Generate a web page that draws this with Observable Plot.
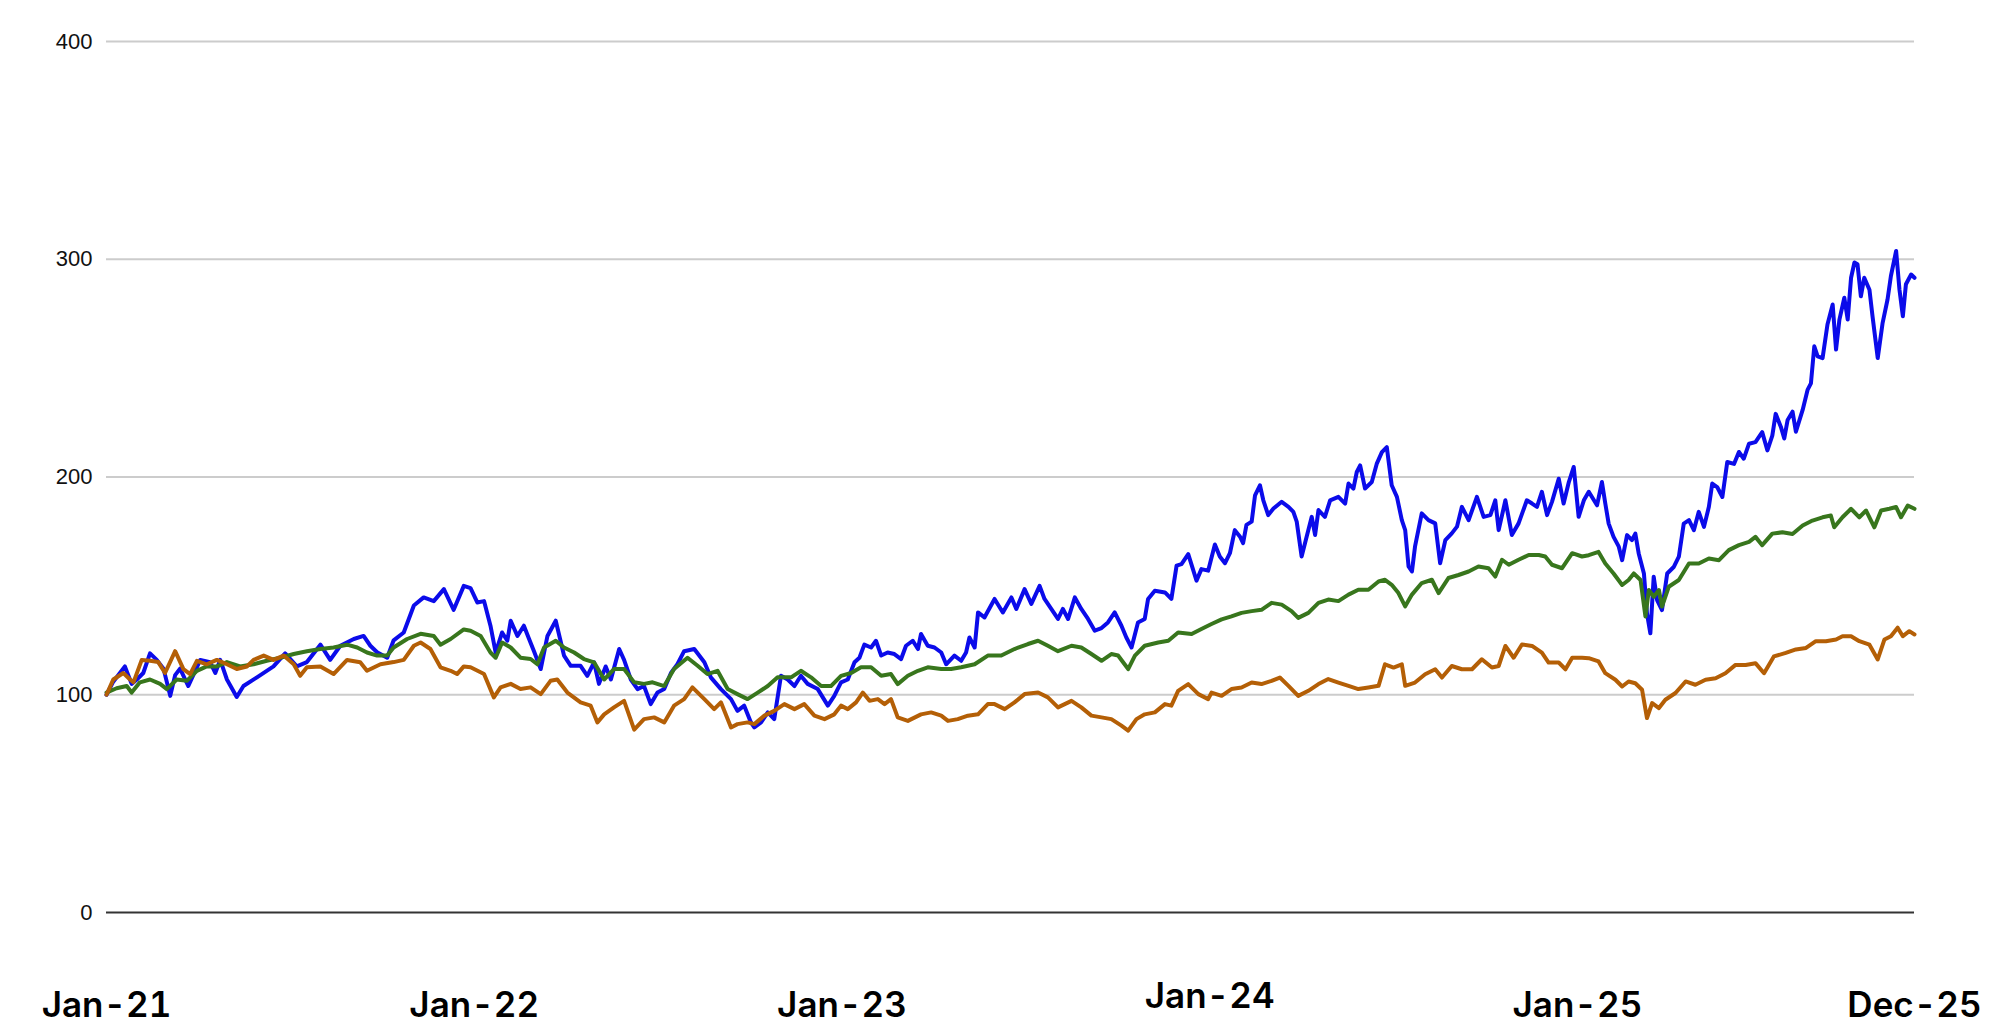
<!DOCTYPE html>
<html>
<head>
<meta charset="utf-8">
<script src="https://cdn.jsdelivr.net/npm/d3@7"></script>
<script src="https://cdn.jsdelivr.net/npm/@observablehq/plot@0.6"></script>
<style>
  html, body { margin: 0; padding: 0; background: #fff; }
  #chart { width: 2012px; height: 1024px; }
</style>
</head>
<body>
<div id="chart"></div>
<script>
// Values indexed by months elapsed since Jan 2021 (t), value rebased to 100.
const blue = [
[0,100],[0.22,106],[0.60,113],[0.82,105],[0.99,107],[1.20,110],[1.42,119],[1.64,116],[1.86,112],[2.08,99.5],
[2.24,109],[2.40,112],[2.67,104],[3.06,116],[3.38,115],[3.55,110],[3.71,116],[3.93,107],[4.25,99],[4.47,104],
[4.91,108],[5.45,113],[5.83,119],[6.21,113],[6.54,115],[6.98,123],[7.30,116],[7.63,122.5],[8.07,125.6],[8.39,127],
[8.61,122.5],[8.83,119.5],[9.16,117],[9.37,125],[9.70,128.6],[10.03,141],[10.35,144.7],[10.68,143],[11.01,148.5],[11.33,139],
[11.66,150],[11.88,149],
[12.10,142.4],[12.32,143],[12.53,131.7],[12.70,119.4],[12.91,128.6],[13.08,124.8],[13.19,134],[13.41,127],[13.62,131.7],[13.79,125.6],
[13.95,120],[14.17,111.8],[14.39,127],[14.66,134],[14.93,118],[15.15,113.3],[15.47,113.3],[15.69,108.7],[15.91,114.9],[16.07,105],
[16.29,113],[16.46,107],[16.73,121],[16.89,116],[17.11,107],[17.33,102.6],[17.54,104],[17.76,95.7],[17.98,101],[18.20,102.6],
[18.42,110],[18.63,114],[18.85,120],[19.18,121],[19.51,114.9],[19.72,108],[20.05,102.6],[20.38,98],[20.59,92.6],[20.81,95],
[21.03,87.3],[21.14,85],[21.36,87.3],[21.58,91.9],[21.79,88.8],[22.01,108.7],[22.23,107],[22.45,104],[22.66,108.7],[22.88,105],
[23.21,102.6],[23.54,95],[23.75,99.5],
[23.97,105.7],[24.19,107],[24.41,114.9],[24.57,117],[24.73,123],[24.95,121.7],[25.11,124.8],[25.28,118],[25.49,119.4],[25.71,118.7],
[25.93,116.4],[26.09,122.5],[26.31,124.8],[26.48,121],[26.58,127.9],[26.80,122.5],[27.02,121.7],[27.24,119.4],[27.40,114],[27.67,118],
[27.89,115.6],[28.05,119.4],[28.16,126.3],[28.33,121.7],[28.44,137.8],[28.65,135.5],[28.98,144],[29.25,137.8],[29.53,144.7],[29.69,139.4],
[29.96,148.5],[30.18,141.7],[30.45,150],[30.61,144],[30.83,139.4],[31.05,134.8],[31.21,139.4],[31.38,134.8],[31.60,144.7],[31.81,139.4],
[32.03,134.8],[32.25,129.4],[32.47,130.6],[32.68,133.2],[32.90,137.8],[33.12,131.7],[33.28,126.3],[33.45,121.7],[33.66,133.2],[33.88,134.8],
[33.99,144],[34.21,147.8],[34.54,147],[34.75,144],[34.92,159.3],[35.08,160],[35.30,164.6],[35.57,152.4],[35.73,157.7],[35.95,157],
[36.17,169],
[36.33,163.5],[36.50,160.4],[36.66,165],[36.82,175.6],[36.99,172.6],[37.09,169.6],[37.20,178],[37.37,179.5],[37.48,191.6],[37.64,196.2],
[37.75,189.3],[37.91,182.5],[38.08,185.5],[38.35,188.6],[38.57,186.3],[38.73,184],[38.84,179.5],[39.00,163.5],[39.11,169.6],[39.33,181.7],
[39.44,173.4],[39.55,184.8],[39.76,181.7],[39.93,189.3],[40.20,190.9],[40.42,187.8],[40.53,197],[40.69,194.7],[40.80,202.3],[40.91,205.3],
[41.07,194.7],[41.29,197.7],[41.45,206],[41.62,211.4],[41.78,213.7],[41.94,196.2],[42.11,190.9],[42.27,180.2],[42.38,175.6],[42.49,158.9],
[42.60,156.6],[42.70,168],[42.92,183.3],[43.14,180.2],[43.36,178.7],[43.52,160.4],[43.69,171],[43.90,174.1],[44.07,177.2],[44.23,186.3],
[44.45,180.2],[44.72,190.9],[44.94,181.7],[45.16,182.5],[45.32,189.3],[45.43,175.6],[45.65,189.3],[45.86,173.4],[46.08,178.7],[46.35,189.3],
[46.52,187.8],[46.68,186.3],[46.84,193.2],[47.01,182.5],[47.17,188.6],[47.39,199.2],[47.55,187.8],[47.72,197.7],[47.88,204.6],[48.04,181.7],
[48.21,189.3],[48.37,193.2],
[48.64,187],[48.80,197.7],[48.91,187.8],[49.02,178.6],[49.18,172.5],[49.35,168],[49.46,161.8],[49.62,173.3],[49.78,171],[49.89,174],
[50.00,164.9],[50.17,155.7],[50.27,137.4],[50.38,128.2],[50.49,154.2],[50.60,143.5],[50.76,138.9],[50.93,155.7],[51.15,158.8],[51.31,163.4],
[51.47,178.6],[51.64,180.2],[51.80,175.6],[51.96,184],[52.13,177.1],[52.29,186.3],[52.40,197],[52.56,195.4],[52.73,190.8],[52.89,206.9],
[53.11,206],[53.27,211.5],[53.43,208.4],[53.60,215.3],[53.81,216],[54.03,220.6],[54.20,212.2],[54.36,219],[54.47,229],
[54.64,223],[54.75,217.7],[54.86,226.2],[55.02,230],[55.13,220.8],[55.35,230.8],[55.51,240],[55.62,243],[55.73,260],[55.84,255.4],
[56.00,254.6],[56.16,270],[56.33,279.2],[56.44,258.5],[56.55,272.3],[56.71,282.3],[56.82,272.3],[56.93,291.5],[57.04,298.5],[57.14,297.7],
[57.25,283],[57.36,291.5],[57.53,286],[57.63,273.8],[57.80,254.6],[57.96,270.8],[58.12,281.5],[58.23,292.3],[58.40,303.8],[58.51,286],
[58.62,273.8],[58.72,288.5],[58.89,293],[59.00,291.5]
];

const green = [
[0,101],[0.33,103],[0.66,104],[0.82,101],[1.09,105.7],[1.42,107],[1.75,105],[1.97,102.6],[2.29,107],[2.62,106.4],
[2.95,111],[3.27,113],[3.60,113],[3.93,115],[4.36,113],[4.80,114],[5.23,115.6],[5.67,117],[6.11,118.7],[6.54,120],
[6.98,121],[7.41,121.7],[7.85,123],[8.18,121.7],[8.50,119.4],[8.83,118],[9.16,118],[9.37,121.7],[9.81,125.6],[10.25,128],
[10.68,127],[10.90,123],[11.23,125.6],[11.66,130],[11.88,129.4],
[12.21,127],[12.53,119.4],[12.70,117],[12.91,124],[13.19,121.7],[13.51,117],[13.84,116.4],[14.06,114],[14.28,121.7],[14.66,124.8],
[14.93,121.7],[15.26,119.4],[15.58,116.4],[15.91,114.9],[16.24,107],[16.56,111.8],[16.89,111.8],[17.22,105.7],[17.54,105],[17.82,105.7],
[18.20,104],[18.52,111.8],[18.96,117],[19.29,113.3],[19.61,109.5],[19.94,111],[20.27,102.6],[20.59,100.3],[20.92,98],[21.25,101],
[21.58,104],[21.90,108],[22.34,108],[22.66,111],[22.99,108],[23.32,104],[23.64,104],
[23.97,108.7],[24.30,110],[24.62,112.6],[24.95,112.6],[25.28,108.7],[25.60,109.5],[25.82,104.9],[26.15,108.7],[26.48,111],[26.80,112.6],
[27.24,111.8],[27.56,111.8],[27.89,112.6],[28.33,114],[28.76,118],[29.20,118],[29.63,121],[30.07,123.3],[30.40,124.8],[30.72,122.5],
[31.05,120],[31.49,122.5],[31.81,121.7],[32.14,118.7],[32.47,115.6],[32.79,118.7],[33.01,118],[33.34,111.8],[33.56,118],[33.88,122.5],
[34.32,124],[34.65,124.8],[34.97,128.6],[35.41,127.9],[35.73,130.2],[36.06,132.5],
[36.39,134.6],[36.71,136],[37.04,137.6],[37.37,138.4],[37.69,139],[38.02,142.2],[38.35,141.4],[38.67,138.4],[38.89,135.3],[39.22,137.6],
[39.55,142.2],[39.87,143.7],[40.20,143],[40.53,146],[40.85,148.2],[41.18,148.2],[41.51,152],[41.72,152.8],[41.94,150.5],[42.16,146.7],
[42.38,140.6],[42.60,146],[42.92,151.3],[43.25,152.8],[43.47,146.7],[43.79,153.6],[44.12,155],[44.45,156.6],[44.77,158.9],[45.10,158.1],
[45.32,154.3],[45.54,162],[45.76,159.7],[46.08,162],[46.41,164.2],[46.74,164.2],[46.95,163.5],[47.17,159.7],[47.50,158.1],[47.83,165],
[48.15,163.5],
[48.37,164.1],[48.69,165.6],[48.91,160.3],[49.18,155.7],[49.46,150.4],[49.67,152.7],[49.84,155.7],[50.06,152.7],[50.22,135.9],[50.33,148.1],
[50.49,145],[50.66,148.1],[50.76,140.5],[50.98,149.6],[51.31,152.7],[51.64,160.3],[51.96,160.3],[52.29,162.6],[52.62,161.8],[52.94,166.4],
[53.27,168.7],[53.60,170.2],[53.81,172.5],[54.03,168.7],[54.36,174],
[54.69,174.6],[55.02,173.8],[55.35,177.7],[55.67,180],[56.00,181.5],[56.27,182.3],[56.38,176.9],[56.65,181.5],[56.93,185.4],[57.20,181.5],
[57.42,184.6],[57.69,176.9],[57.91,184.6],[58.18,185.4],[58.40,186.2],[58.56,181.5],[58.78,186.9],[59.00,185.4]
];

const orange = [
[0,100],[0.22,107],[0.55,110],[0.77,107],[0.88,105.7],[1.15,116],[1.42,115.6],[1.69,115],[1.91,110],[2.24,120],
[2.51,111.8],[2.73,109.5],[2.95,115.6],[3.27,114],[3.60,116],[3.93,114],[4.25,111.8],[4.58,113],[4.80,116],[5.13,118],
[5.45,116],[5.78,118],[6.11,114],[6.32,108.7],[6.54,112.6],[6.98,113],[7.41,109.5],[7.85,116],[8.28,114.9],[8.50,111],
[8.94,114],[9.37,115],[9.70,116],[10.03,122.5],[10.25,124],[10.57,121],[10.90,112.6],[11.23,111],[11.44,109.5],[11.66,113],
[11.88,112.6],
[12.32,109.5],[12.64,98.8],[12.86,103.4],[13.19,105],[13.51,102.6],[13.84,103.4],[14.17,100.3],[14.49,106.4],[14.71,107],[15.04,101],
[15.47,96.5],[15.80,95],[16.02,87.3],[16.24,91],[16.56,94.2],[16.89,97.2],[17.22,84],[17.54,88.8],[17.87,89.6],[18.20,87.3],
[18.52,95],[18.85,98],[19.12,103.4],[19.51,98],[19.83,93.4],[20.05,96.5],[20.38,85],[20.59,86.5],[20.92,87.3],[21.14,86.5],
[21.47,90.4],[21.79,92.6],[22.12,95.7],[22.45,93.4],[22.77,95.7],[23.10,90.4],[23.43,88.8],[23.75,91],
[23.97,95],[24.19,93.4],[24.46,96.5],[24.68,101],[24.90,97.2],[25.17,98],[25.39,95.7],[25.60,98],[25.82,89.6],[26.15,88],
[26.58,91],[26.91,91.9],[27.24,90.4],[27.46,88],[27.78,88.8],[28.11,90.4],[28.44,91],[28.76,95.7],[28.98,95.7],[29.31,93.4],
[29.63,96.5],[29.96,100.3],[30.40,101],[30.72,98.8],[31.05,94.2],[31.49,97.2],[31.81,94.2],[32.14,90.4],[32.47,89.6],[32.79,88.8],
[33.12,85.8],[33.34,83.5],[33.61,88.8],[33.88,91],[34.21,91.9],[34.54,95.7],[34.75,95],[34.97,101.8],[35.30,104.9],[35.63,100.3],
[35.95,98],
[36.06,101],[36.39,99.5],[36.71,102.6],[37.04,103.3],[37.37,105.6],[37.69,104.9],[38.02,106.4],[38.29,107.9],[38.57,104.1],[38.89,99.5],
[39.22,101.8],[39.55,104.9],[39.87,107.2],[40.20,105.6],[40.53,104.1],[40.85,102.6],[41.18,103.3],[41.51,104.1],[41.72,114],[42.00,112.5],
[42.27,114],[42.38,104.1],[42.70,105.6],[43.03,109.4],[43.36,111.7],[43.58,107.9],[43.90,113.2],[44.23,111.7],[44.56,111.7],[44.88,116.3],
[45.21,112.5],[45.43,113.2],[45.65,122.4],[45.92,117],[46.19,123.1],[46.52,122.4],[46.84,119.3],[47.06,114.8],[47.39,114.8],[47.61,111.7],
[47.83,117],[48.15,117],
[48.37,116.8],[48.69,115.3],[48.91,109.9],[49.24,106.9],[49.46,103.8],[49.67,106.1],[49.89,105.3],[50.11,102.3],[50.27,89.3],[50.44,96.2],
[50.66,93.9],[50.87,97.7],[51.20,100.8],[51.53,106.1],[51.85,104.6],[52.18,106.9],[52.51,107.6],[52.83,109.9],[53.16,113.7],[53.49,113.7],
[53.81,114.5],[54.09,109.9],[54.41,117.6],
[54.80,119.2],[55.13,120.8],[55.46,121.5],[55.78,124.6],[56.11,124.6],[56.44,125.4],[56.65,126.9],[56.93,126.9],[57.20,124.6],[57.53,123],
[57.80,116.2],[58.02,125.4],[58.23,126.9],[58.45,130.8],[58.62,126.9],[58.83,129.2],[59.00,127.7]
];

const seriesNames = ["Series A", "Series B", "Series C"];
const seriesColors = ["#0b0bea", "#38761d", "#b45f06"];
const yTicks = [0, 100, 200, 300, 400];
const xTickMonths = [0, 12, 24, 36, 48, 59];
const xTickLabels = ["Jan-21", "Jan-22", "Jan-23", "Jan-24", "Jan-25", "Dec-25"];
const raisedLabel = "Jan-24";
const lastMonth = 59;

const start = new Date(2021, 0, 1);
const toDate = t => new Date(start.getTime() + t * 30.4375 * 864e5);

const seriesData = [blue, green, orange].map(arr =>
  arr.map(([t, v]) => ({ date: toDate(t), value: v }))
);
const tickDates = xTickMonths.map(toDate);
const labelOf = new Map(tickDates.map((d, i) => [+d, xTickLabels[i]]));
const normalTicks = tickDates.filter(d => labelOf.get(+d) !== raisedLabel);
const raisedTicks = tickDates.filter(d => labelOf.get(+d) === raisedLabel);

const xAxisStyle = {
  tickFormat: d => labelOf.get(+d), tickSize: 0, label: null,
  fontSize: 35, fontWeight: 600, fontFamily: "Inter, sans-serif", fill: "#000"
};

const chart = Plot.plot({
  width: 2012,
  height: 1024,
  marginLeft: 106,
  marginRight: 98,
  marginTop: 41,
  marginBottom: 112,
  style: { fontFamily: "Inter, sans-serif", background: "#fff", overflow: "visible" },
  x: { type: "time", domain: [toDate(0), toDate(lastMonth)] },
  y: { domain: [0, 400] },
  marks: [
    Plot.ruleY(yTicks.filter(d => d !== 0), { stroke: "#cccccc", strokeWidth: 2 }),
    Plot.ruleY([0], { stroke: "#333333", strokeWidth: 2 }),
    Plot.axisY({
      ticks: yTicks, tickSize: 0, tickPadding: 14, label: null,
      fontSize: 22, fontFamily: "Liberation Sans, Arial, sans-serif", fill: "#111"
    }),
    Plot.axisX({ ticks: normalTicks, tickPadding: 80, ...xAxisStyle }),
    Plot.axisX({ ticks: raisedTicks, tickPadding: 71, ...xAxisStyle }),
    ...seriesData.map((rows, i) =>
      Plot.line(rows, {
        x: "date", y: "value", stroke: seriesColors[i], strokeWidth: 4,
        strokeLinejoin: "round", strokeLinecap: "round"
      })
    )
  ]
});
document.getElementById("chart").appendChild(chart);
</script>
</body>
</html>
